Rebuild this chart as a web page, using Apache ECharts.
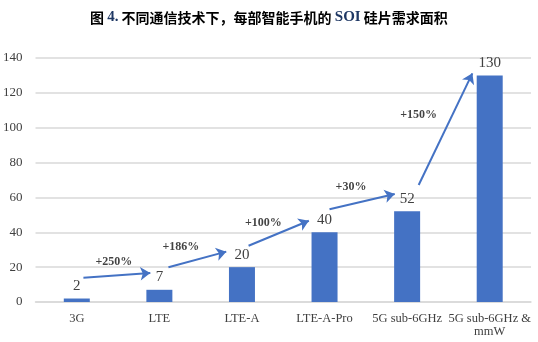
<!DOCTYPE html>
<html><head><meta charset="utf-8">
<script src="https://cdn.jsdelivr.net/npm/echarts@6/dist/echarts.min.js"></script>
<style>html,body{margin:0;padding:0;background:#fff}#c{width:538px;height:342px}</style>
</head><body><div id="c"></div>
<script>
var categories = ['3G', 'LTE', 'LTE-A', 'LTE-A-Pro', '5G sub-6GHz', '5G sub-6GHz &\nmmW'];
var values = [2, 7, 20, 40, 52, 130];
var yTicks = [0, 20, 40, 60, 80, 100, 120, 140];
var growthLabels = ['+250%', '+186%', '+100%', '+30%', '+150%'];
// growth label anchor points (category index, value)
var growthX = [0.45, 1.26, 2.26, 3.32, 4.14];
var growthY = [23.1, 31.4, 45.3, 66.0, 107.1];
// arrows: start/end (category index, value)
var arrowStartX = [0.08, 1.11, 2.08, 3.06, 4.14];
var arrowStartY = [13.9, 19.9, 32.3, 53.2, 67.1];
var arrowEndX = [0.89, 1.81, 2.81, 3.85, 4.79];
var arrowEndY = [16.6, 28.9, 46.6, 62.0, 131.2];

var serif = '"Liberation Serif", "Times New Roman", serif';
var chart = echarts.init(document.getElementById('c'));
var arrows = arrowStartX.map(function (x, i) {
  return { coords: [[x, arrowStartY[i]], [arrowEndX[i], arrowEndY[i]]] };
});
var growth = growthLabels.map(function (t, i) { return { value: [growthX[i], growthY[i]], name: t }; });
chart.setOption({
  animation: false,
  title: {
    text: '{a|图 }{b|4.}{a| 不同通信技术下，每部智能手机的 }{b|SOI}{a| 硅片需求面积}',
    left: 85, top: 5,
    textStyle: {
      rich: {
        a: { fontFamily: '"Noto Sans CJK SC"', fontWeight: 'bold', fontSize: 14, color: '#000' },
        b: { fontFamily: serif, fontWeight: 'bold', fontSize: 15, color: '#1f3864' }
      }
    }
  },
  grid: { left: 33, right: 7, top: 58, bottom: 40 },
  xAxis: [{
    type: 'category', data: categories,
    axisLine: { lineStyle: { color: '#d9d9d9', width: 1.5 } },
    axisTick: { show: false },
    axisLabel: { fontFamily: serif, fontSize: 12.5, color: '#404040', margin: 10, interval: 0, lineHeight: 13 }
  }, {
    type: 'value', min: -0.5, max: 5.5, show: false
  }],
  yAxis: {
    type: 'value', min: 0, max: 140, interval: 20,
    axisLine: { show: false }, axisTick: { show: false },
    splitLine: { lineStyle: { color: '#d9d9d9', width: 1.5 } },
    axisLabel: { fontFamily: serif, fontSize: 13, color: '#404040', margin: 13 }
  },
  series: [{
    type: 'bar', data: values, barWidth: 26,
    itemStyle: { color: '#4472C4' },
    label: { show: true, position: 'top', distance: 5, fontFamily: serif, fontSize: 15, color: '#404040' }
  }, {
    type: 'lines', coordinateSystem: 'cartesian2d', xAxisIndex: 1,
    data: arrows,
    symbol: ['none', 'arrow'], symbolSize: [0, 10],
    lineStyle: { color: '#4472C4', width: 2, opacity: 1 },
    silent: true
  }, {
    type: 'scatter', xAxisIndex: 1, data: growth, symbolSize: 0,
    label: { show: true, position: 'inside', formatter: function (p) { return p.name; },
      fontFamily: serif, fontWeight: 'bold', fontSize: 12, color: '#111' },
    silent: true
  }]
});
</script></body></html>
